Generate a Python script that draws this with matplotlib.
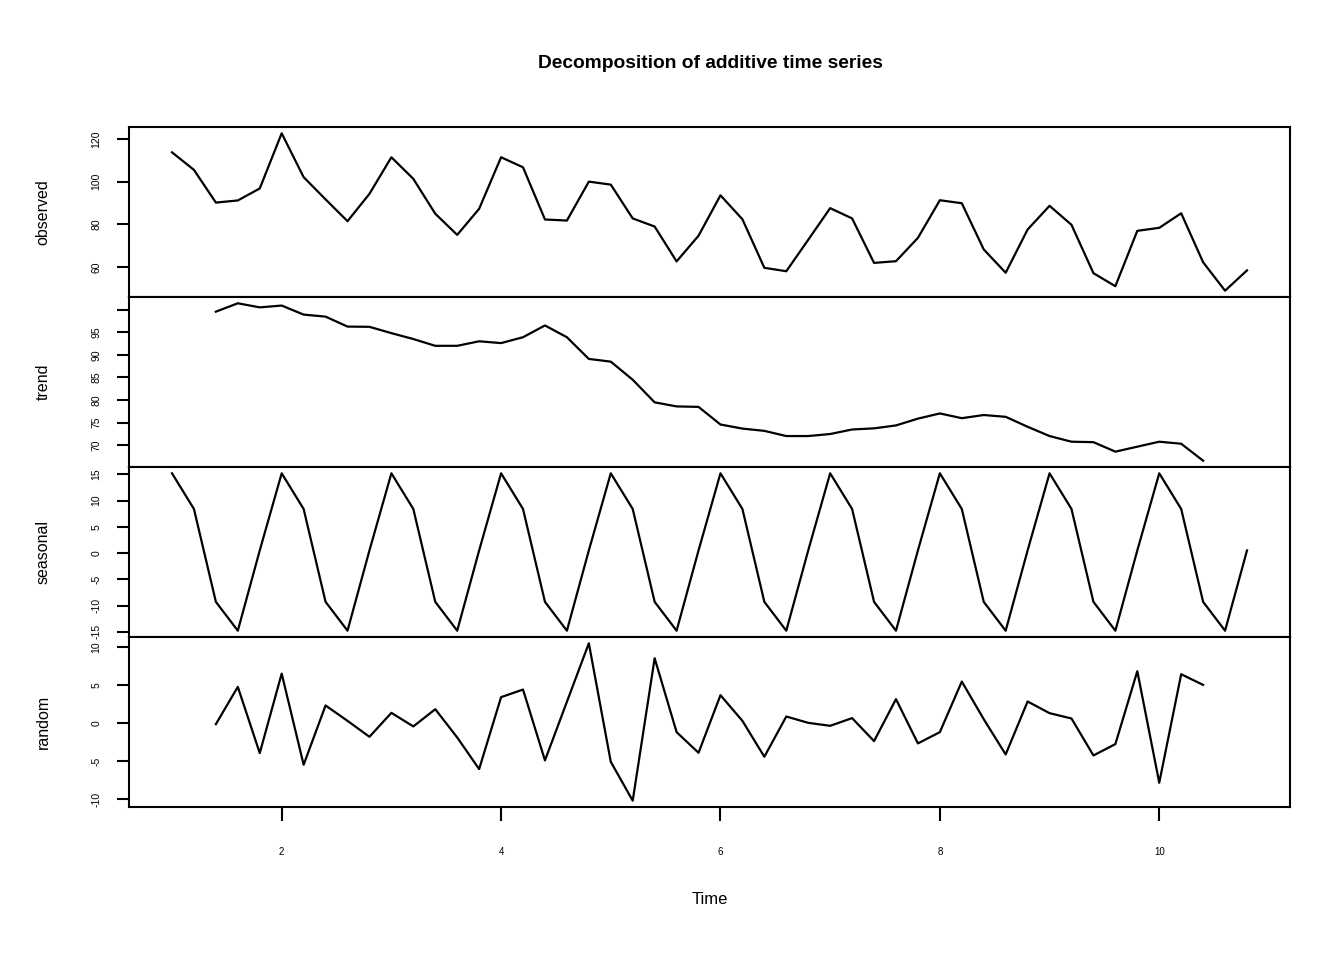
import numpy as np
import matplotlib
matplotlib.use("Agg")
import matplotlib.pyplot as plt

plt.rcParams['font.family'] = ['Liberation Sans', 'DejaVu Sans']

# quarterly-ish series: frequency 5, start at 1
time = 1 + np.arange(50) / 5.0

observed = [113.7, 105.5, 90.2, 91.2, 96.8, 122.6, 102.1, 91.7, 81.5, 94.3,
            111.4, 101.3, 85.0, 75.1, 87.3, 111.4, 106.7, 82.3, 81.8, 100.0,
            98.6, 82.8, 79.0, 62.7, 74.7, 93.6, 82.4, 59.7, 58.1, 72.8,
            87.6, 82.8, 62.0, 62.8, 73.7, 91.3, 89.9, 68.3, 57.4, 77.6,
            88.7, 79.8, 57.2, 51.1, 77.0, 78.4, 85.2, 62.3, 49.0, 58.5]

trend = [np.nan, np.nan, 99.55, 101.4, 100.5, 100.9, 98.9, 98.45, 96.25, 96.2,
         94.8, 93.5, 92.0, 92.0, 93.0, 92.6, 93.9, 96.5, 93.9, 89.1,
         88.5, 84.5, 79.5, 78.6, 78.5, 74.6, 73.7, 73.2, 72.05, 72.05,
         72.5, 73.5, 73.75, 74.4, 75.9, 77.05, 76.0, 76.7, 76.3, 74.1,
         72.05, 70.8, 70.7, 68.6, 69.7, 70.8, 70.35, 66.6, np.nan, np.nan]

season_figure = [15.2, 8.4, -9.3, -14.8, 0.5]
seasonal = season_figure * 10

random_part = [np.nan, np.nan, -0.13, 4.76, -3.93, 6.5, -5.46, 2.32, 0.3, -1.79,
               1.35, -0.43, 1.83, -1.88, -6.03, 3.41, 4.41, -4.89, 2.8, 10.48,
               -5.07, -10.18, 8.52, -1.18, -3.89, 3.67, 0.3, -4.41, 0.87, 0.04,
               -0.35, 0.66, -2.36, 3.15, -2.66, -1.18, 5.46, 0.52, -4.11, 2.84,
               1.31, 0.61, -4.24, -2.75, 6.82, -7.82, 6.42, 5.02, np.nan, np.nan]

panels = [
    ("observed", observed, [60, 80, 100, 120], ["60", "80", "100", "120"]),
    ("trend", trend, [70, 75, 80, 85, 90, 95, 100], ["70", "75", "80", "85", "90", "95", ""]),
    ("seasonal", seasonal, [-15, -10, -5, 0, 5, 10, 15], ["-15", "-10", "-5", "0", "5", "10", "15"]),
    ("random", random_part, [-10, -5, 0, 5, 10], ["-10", "-5", "0", "5", "10"]),
]

W, H = 1344, 960
fig = plt.figure(figsize=(W / 100, H / 100), dpi=100)

left, right = 129 / W, 1290 / W
tops = [127, 297, 467, 637]
ph = 170

xr = time[-1] - time[0]
xlim = (time[0] - 0.04 * xr, time[-1] + 0.04 * xr)

axes = []
for i, (name, vals, ticks, labels) in enumerate(panels):
    bottom = 1 - (tops[i] + ph) / H
    ax = fig.add_axes([left, bottom, right - left, ph / H])
    v = np.array(vals, dtype=float)
    ax.plot(time, v, color="black", lw=1.6)
    lo, hi = np.nanmin(v), np.nanmax(v)
    r = hi - lo
    ax.set_ylim(lo - 0.04 * r, hi + 0.04 * r)
    ax.set_xlim(*xlim)
    ax.set_yticks(ticks)
    ax.set_yticklabels(labels)
    ax.tick_params(axis="y", length=9, width=1.5, pad=11, labelsize=7.5,
                   labelrotation=90)
    for t in ax.get_yticklabels():
        t.set_va("center")
    for s in ax.spines.values():
        s.set_linewidth(1.5)
    if i < 3:
        ax.set_xticks([])
    else:
        ax.set_xticks([2, 4, 6, 8, 10])
        ax.tick_params(axis="x", length=10, width=1.5, pad=19, labelsize=7)
    yc = 1 - (tops[i] + ph / 2) / H
    fig.text(43 / W, yc, name, rotation=90, ha="center", va="center", fontsize=11.5)
    axes.append(ax)

fig.text(710 / W, 1 - 64 / H, "Decomposition of additive time series",
         ha="center", va="center", fontsize=13.8, fontweight="bold")
fig.text(710 / W, 1 - 899 / H, "Time", ha="center", va="center", fontsize=12)

fig.savefig("out.png", dpi=100)
